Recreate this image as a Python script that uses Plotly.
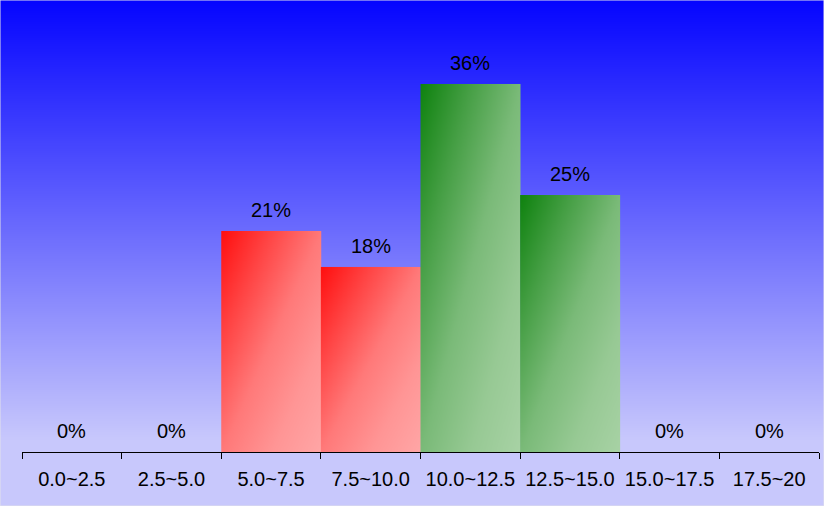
import numpy as np
import plotly.graph_objects as go

# ---- data ----
categories = ["0.0~2.5", "2.5~5.0", "5.0~7.5", "7.5~10.0",
              "10.0~12.5", "12.5~15.0", "15.0~17.5", "17.5~20"]
percent = [0, 0, 21.5, 18, 35.8, 25, 0, 0]
labels = ["0%", "0%", "21%", "18%", "36%", "25%", "0%", "0%"]
groups = ["low", "low", "low", "low", "high", "high", "high", "high"]

# ---- styles ----
W, H = 824, 506
FONT = "Liberation Sans, Arial, sans-serif"
group_ends = {
    "low": ((255, 15, 15), (255, 166, 166)),
    "high": ((15, 130, 15), (168, 210, 165)),
}
# gradient profile (position -> blend fraction)
profile = [(0, 0), (0.25, 0.36), (0.5, 0.70), (0.75, 0.89), (1, 1)]


def make_scale(c0, c1):
    out = []
    for p, f in profile:
        c = [round(a + (b - a) * f) for a, b in zip(c0, c1)]
        out.append([p, "rgb(%d,%d,%d)" % tuple(c)])
    return out


px_left, px_right, px_base = 22, 819, 452
px_per_unit = 10.28

fig = go.Figure()

# background vertical gradient on full-paper axes (x, y)
nb = 120
yb = np.linspace(0, 1, nb + 1)
yc = (yb[:-1] + yb[1:]) / 2
ypx = (1 - yc) * H
zb = np.clip(1 - ypx / 440.0, 0, 1)
fig.add_trace(go.Heatmap(
    x=[0, 1], y=yb, z=zb[:, None],
    colorscale=[[0, "rgb(200,200,252)"], [1, "rgb(5,5,255)"]],
    zmin=0, zmax=1, showscale=False, hoverinfo="skip",
    xaxis="x", yaxis="y", zsmooth="best",
))

# bars as gradient heatmaps on (x2, y2): bounding-box diagonal gradient
n, m = 40, 80
for i, (v, g) in enumerate(zip(percent, groups)):
    if v <= 0:
        continue
    xe = np.linspace(i, i + 1, n + 1)
    ye = np.linspace(0, v, m + 1)
    u = (np.arange(n) + 0.5) / n
    w = (np.arange(m) + 0.5) / m          # 0 bottom .. 1 top
    Z = (u[None, :] + (1 - w[:, None])) / 2
    fig.add_trace(go.Heatmap(
        x=xe, y=ye, z=Z, colorscale=make_scale(*group_ends[g]), zmin=0, zmax=1,
        showscale=False, hoverinfo="skip", xaxis="x2", yaxis="y2",
        zsmooth="best",
    ))

# value labels
for i, (v, t) in enumerate(zip(percent, labels)):
    fig.add_annotation(
        x=i + 0.5, y=v, xref="x2", yref="y2", text=t, showarrow=False,
        yshift=21, yanchor="middle", font=dict(family=FONT, size=20, color="black"),
    )

ytop = px_base / px_per_unit
fig.update_layout(
    width=W, height=H,
    margin=dict(l=0, r=0, t=0, b=0),
    paper_bgcolor="rgb(200,200,252)",
    plot_bgcolor="rgba(0,0,0,0)",
    showlegend=False,
    font=dict(family=FONT, size=20, color="black"),
    xaxis=dict(domain=[0, 1], range=[0, 1], visible=False, fixedrange=True),
    yaxis=dict(domain=[0, 1], range=[0, 1], visible=False, fixedrange=True),
    xaxis2=dict(
        domain=[px_left / W, px_right / W], range=[0, 8], anchor="y2",
        tickmode="array", tickvals=[i + 0.5 for i in range(8)], ticktext=categories,
        ticks="", showgrid=False, zeroline=False,
        showline=True, linecolor="black", linewidth=1,
        tickfont=dict(family=FONT, size=20, color="black"),
        ticklabelstandoff=9,
        minor=dict(tickmode="array", tickvals=list(range(9)), ticks="outside",
                   ticklen=6, tickcolor="black", tickwidth=1, showgrid=False),
    ),
    yaxis2=dict(
        domain=[(H - px_base) / H, 1], range=[0, ytop], anchor="x2",
        visible=False, showgrid=False, zeroline=False,
    ),
    shapes=[dict(type="rect", xref="paper", yref="paper", x0=0, x1=1, y0=0, y1=1,
                 line=dict(color="rgb(225,225,235)", width=1), layer="above")],
)

fig.write_html("out.html", config={"displayModeBar": False},
               post_script="document.body.style.margin='0';")
